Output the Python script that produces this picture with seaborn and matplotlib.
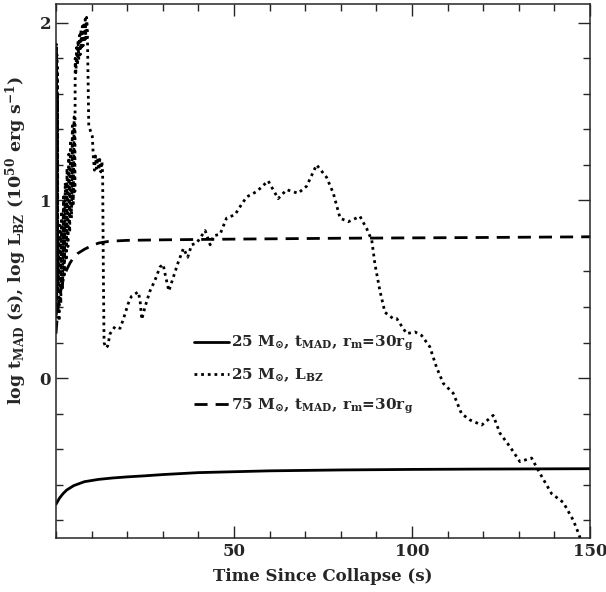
import numpy as np
import pandas as pd
import matplotlib
matplotlib.use("Agg")
import matplotlib.pyplot as plt
from matplotlib.ticker import MultipleLocator
import seaborn as sns

# 25 Msun, t_MAD, r_m = 30 r_g
t_25_mad = [0, 1, 2, 3, 5, 8, 12, 16, 20, 25, 30, 40, 50, 60, 80, 100, 120, 150]
y_25_mad = [-0.71, -0.675, -0.65, -0.63, -0.605, -0.583, -0.57, -0.562, -0.556,
            -0.55, -0.543, -0.532, -0.527, -0.522, -0.517, -0.514, -0.512, -0.51]

# 75 Msun, t_MAD, r_m = 30 r_g
t_75_mad = [0, 0.5, 1, 2, 3, 4, 5, 6, 8, 10, 12, 15, 20, 30, 50, 80, 110, 150]
y_75_mad = [0.25, 0.38, 0.46, 0.55, 0.61, 0.65, 0.68, 0.70, 0.725, 0.745, 0.76,
            0.77, 0.775, 0.778, 0.782, 0.787, 0.79, 0.795]

# 25 Msun, L_BZ
t_25_lbz = [0.00, 0.05, 0.10, 0.15, 0.20, 0.25, 0.30, 0.35, 0.40, 0.45, 0.50,
            0.60, 0.85, 1.10, 1.35, 1.60, 1.85, 2.10, 2.35, 2.60, 2.85, 3.10,
            3.35, 3.60, 3.85, 4.10, 4.35, 4.60, 4.85, 5.10, 5.30,
            5.40, 5.60, 5.80, 6.00, 6.20, 6.40, 6.60, 6.80, 7.00, 7.20, 7.40,
            7.60, 7.80, 8.00, 8.20, 8.40, 8.60, 8.80,
            9.00, 9.20, 9.70, 10.2,
            10.5, 10.8, 11.1, 11.4, 11.7, 12.0, 12.3, 12.6, 12.9, 13.1,
            13.3, 13.5, 14.0, 14.5,
            15.2, 16.6, 18.0, 18.9, 20.3, 21.2, 23.1, 23.6, 24.1, 25.0, 26.4,
            27.8, 29.2, 30.1, 30.6, 31.7, 33.0, 34.3, 35.8, 37.0, 38.1, 39.5,
            41.9, 43.3, 44.2, 46.1, 47.9, 50.3, 52.2, 53.6, 56.4, 59.6, 62.4,
            64.8, 68.0, 70.4, 73.2, 76.0, 77.9, 79.8, 82.1, 85.4, 87.3, 88.7,
            89.6, 91.0, 92.4, 94.7, 95.7, 98.5, 100.8, 102.7, 105.0, 106.9,
            108.8, 111.6, 113.9, 116.3, 119.6, 122.8, 124.7, 127.5, 130.3,
            133.6, 135.9, 139.2, 142.5, 145.3, 146.9, 148.0]
y_25_lbz = [0.30, 1.88, 0.35, 1.86, 0.45, 1.82, 0.55, 1.75, 0.65, 1.60, 0.50,
            0.78, 0.32, 0.86, 0.42, 0.94, 0.50, 1.02, 0.58, 1.10, 0.66, 1.18,
            0.74, 1.26, 0.82, 1.34, 0.90, 1.42, 0.98, 1.47, 1.05,
            1.80, 1.72, 1.86, 1.76, 1.90, 1.79, 1.93, 1.82, 1.96, 1.85, 1.98,
            1.87, 2.00, 1.89, 2.02, 1.91, 2.03, 1.97,
            1.70, 1.42, 1.39, 1.36,
            1.24, 1.17, 1.25, 1.18, 1.24, 1.17, 1.23, 1.16, 1.22, 1.15,
            0.60, 0.20, 0.17, 0.18,
            0.25, 0.29, 0.28, 0.33, 0.42, 0.46, 0.485, 0.44, 0.33, 0.40, 0.49,
            0.55, 0.625, 0.64, 0.59, 0.49, 0.57, 0.65, 0.73, 0.68, 0.75, 0.76,
            0.83, 0.75, 0.80, 0.81, 0.90, 0.92, 0.98, 1.02, 1.05, 1.11, 1.01,
            1.06, 1.04, 1.08, 1.20, 1.13, 1.04, 0.90, 0.88, 0.91, 0.84, 0.775,
            0.64, 0.49, 0.37, 0.335, 0.335, 0.25, 0.26, 0.24, 0.176, 0.06,
            -0.03, -0.086, -0.20, -0.236, -0.264, -0.21, -0.31, -0.386, -0.47,
            -0.45, -0.535, -0.65, -0.70, -0.80, -0.88, -0.95]

labels = [r"25 M$_{\odot}$, t$_{\rm MAD}$, r$_{\rm m}$=30r$_{\rm g}$",
          r"25 M$_{\odot}$, L$_{\rm BZ}$",
          r"75 M$_{\odot}$, t$_{\rm MAD}$, r$_{\rm m}$=30r$_{\rm g}$"]

sns.set_style("ticks")
plt.rcParams["font.family"] = ["DejaVu Serif", "DejaVu Sans"]
plt.rcParams["font.weight"] = "bold"
plt.rcParams["axes.labelweight"] = "bold"
plt.rcParams["mathtext.fontset"] = "custom"
plt.rcParams["mathtext.rm"] = "DejaVu Serif:bold"
plt.rcParams["mathtext.it"] = "DejaVu Serif:bold"
plt.rcParams["mathtext.bf"] = "DejaVu Serif:bold"

fig = plt.figure(figsize=(6.06, 5.92), dpi=100)
ax = fig.add_axes([0.0924, 0.0912, 0.8812, 0.902])

df_solid = pd.DataFrame({"t": t_25_mad, "y": y_25_mad})
df_dot = pd.DataFrame({"t": t_25_lbz, "y": y_25_lbz})
df_dash = pd.DataFrame({"t": t_75_mad, "y": y_75_mad})

sns.lineplot(data=df_solid, x="t", y="y", ax=ax, color="black", lw=2.0,
             estimator=None, sort=False, label=labels[0])
sns.lineplot(data=df_dot, x="t", y="y", ax=ax, color="black", lw=2.0,
             linestyle=(0, (1, 1.4)), estimator=None, sort=False, label=labels[1])
sns.lineplot(data=df_dash, x="t", y="y", ax=ax, color="black", lw=2.0,
             linestyle=(0, (4.7, 2.9)), estimator=None, sort=False, label=labels[2])

ax.set_xlim(0, 150)
ax.set_ylim(-0.9, 2.105)
ax.xaxis.set_major_locator(MultipleLocator(50))
ax.xaxis.set_minor_locator(MultipleLocator(10))
ax.yaxis.set_major_locator(MultipleLocator(1))
ax.yaxis.set_minor_locator(MultipleLocator(0.2))
ax.set_xticks([50, 100, 150])
ax.tick_params(which="both", direction="in", top=True, right=True, width=1.0,
               labelsize=12)
ax.tick_params(which="major", length=8.6)
ax.tick_params(which="minor", length=5)
for lab in ax.get_xticklabels() + ax.get_yticklabels():
    lab.set_fontweight("bold")
for s in ax.spines.values():
    s.set_linewidth(1.1)

ax.set_xlabel("Time Since Collapse (s)", fontsize=12, fontweight="bold", labelpad=6)
ax.set_ylabel(r"log t$_{\rm MAD}$ (s), log L$_{\rm BZ}$ (10$^{50}$ erg s$^{-1}$)",
              fontsize=12.5, fontweight="bold")
ax.yaxis.set_label_coords(-0.05, 0.558)

ax.legend(loc="upper left", bbox_to_anchor=(0.258, 0.382), frameon=False,
          prop={"size": 11, "weight": "bold"}, handlelength=2.3,
          handletextpad=0.15, labelspacing=0.85, borderpad=0, borderaxespad=0)

fig.savefig("out.png", dpi=100)
